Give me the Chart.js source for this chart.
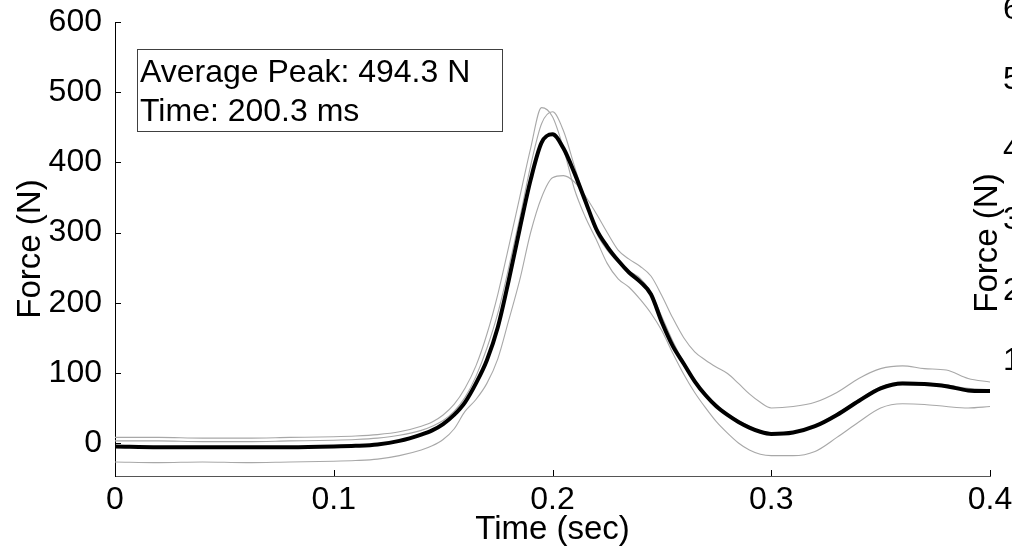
<!DOCTYPE html>
<html>
<head>
<meta charset="utf-8">
<script src="https://cdn.jsdelivr.net/npm/chart.js@4.4.1/dist/chart.umd.min.js"></script>
<style>
  html, body { margin: 0; padding: 0; background: #fff; }
  #wrap { width: 1012px; height: 552px; position: relative; overflow: hidden; }
</style>
</head>
<body>
<div id="wrap"><canvas id="forceChart" width="1012" height="552"></canvas></div>
<script>
// time samples (sec)
const timeSec = [0, 0.02, 0.04, 0.06, 0.08, 0.10, 0.11, 0.12, 0.13, 0.14,
  0.145, 0.15, 0.155, 0.16, 0.165, 0.17, 0.175, 0.18, 0.185, 0.19,
  0.195, 0.2, 0.205, 0.21, 0.215, 0.22, 0.225, 0.23, 0.235, 0.24,
  0.245, 0.25, 0.255, 0.26, 0.265, 0.27, 0.275, 0.28, 0.285, 0.29,
  0.295, 0.3, 0.31, 0.32, 0.33, 0.34, 0.35, 0.36, 0.37, 0.38, 0.39, 0.4];

// average trace (thick black)
const avgForce = [-5, -6, -6, -6, -6, -5, -4, -2, 3, 12,
  18, 27, 40, 58, 85, 118, 165, 232, 305, 375,
  428, 440, 420, 385, 345, 305, 280, 260, 243, 230,
  212, 172, 138, 113, 88, 68, 52, 40, 30, 22,
  16, 13, 15, 24, 40, 60, 78, 85, 84, 81, 75, 74];

// individual trials (grey)
const trial1 = [8, 8, 7, 7, 8, 9, 10, 12, 16, 24,
  30, 40, 55, 78, 110, 155, 212, 280, 350, 420,
  478, 465, 420, 362, 322, 290, 256, 234, 222, 205,
  185, 160, 128, 98, 72, 50, 30, 14, 0, -10,
  -16, -18, -18, -12, 8, 30, 50, 56, 55, 52, 50, 52];
const trial2 = [3, 3, 2, 2, 3, 4, 5, 7, 11, 18,
  24, 32, 45, 65, 95, 135, 185, 250, 320, 395,
  455, 472, 445, 395, 345, 300, 275, 258, 245, 235,
  215, 180, 145, 115, 90, 70, 55, 42, 32, 24,
  17, 14, 16, 25, 42, 62, 80, 87, 86, 83, 78, 76];
const trial3 = [-27, -28, -27, -28, -27, -26, -25, -23, -18, -10,
  -4, 5, 20, 45, 62, 85, 120, 175, 232, 300,
  350, 378, 381, 372, 352, 327, 300, 275, 262, 252,
  238, 210, 178, 150, 130, 118, 108, 99, 85, 70,
  58, 50, 52, 58, 72, 92, 106, 110, 106, 104, 92, 87];

const forceTicks = [0, 100, 200, 300, 400, 500, 600];
const timeTicks = [0, 0.1, 0.2, 0.3, 0.4];
const timeTickLabels = ['0', '0.1', '0.2', '0.3', '0.4'];
const neighbourTicks = [100, 200, 300, 400, 500, 600];

const annotationLines = ['Average Peak: 494.3 N', 'Time: 200.3 ms'];

const FONT = '"Liberation Sans", Arial, Helvetica, sans-serif';

function toPoints(arr) {
  return timeSec.map((t, i) => ({ x: t, y: arr[i] }));
}

// inward tick marks, like matlab axes
const tickMarks = {
  id: 'tickMarks',
  afterDraw(chart) {
    const ctx = chart.ctx;
    const xs = chart.scales.x, ys = chart.scales.y;
    const area = chart.chartArea;
    ctx.save();
    ctx.strokeStyle = '#000';
    ctx.lineWidth = 1;
    ctx.beginPath();
    forceTicks.forEach(v => {
      const py = Math.round(ys.getPixelForValue(v)) + 0.5;
      ctx.moveTo(area.left, py);
      ctx.lineTo(area.left + 6, py);
    });
    timeTicks.forEach(v => {
      if (v === 0) return;
      const px = Math.round(xs.getPixelForValue(v)) + 0.5;
      ctx.moveTo(px, area.bottom);
      ctx.lineTo(px, area.bottom - 6);
    });
    ctx.stroke();
    ctx.restore();
  }
};

// text box in upper left
const peakBox = {
  id: 'peakBox',
  afterDraw(chart) {
    const ctx = chart.ctx;
    ctx.save();
    ctx.fillStyle = '#fff';
    ctx.fillRect(137.5, 49.5, 365, 82);
    ctx.strokeStyle = '#404040';
    ctx.lineWidth = 1;
    ctx.strokeRect(137.5, 49.5, 365, 82);
    ctx.fillStyle = '#000';
    ctx.font = '32px ' + FONT;
    ctx.textBaseline = 'alphabetic';
    ctx.textAlign = 'left';
    ctx.fillText(annotationLines[0], 140, 82);
    ctx.fillText(annotationLines[1], 140, 121);
    ctx.restore();
  }
};

// edge of the next subplot, cut off at the right
const neighbourAxis = {
  id: 'neighbourAxis',
  afterDraw(chart) {
    const ctx = chart.ctx;
    const ys = chart.scales.y;
    ctx.save();
    ctx.fillStyle = '#000';
    ctx.font = '32px ' + FONT;
    ctx.textBaseline = 'middle';
    ctx.textAlign = 'left';
    neighbourTicks.forEach(v => {
      ctx.fillText(String(v), 1003, ys.getPixelForValue(v) - 12);
    });
    ctx.font = '33px ' + FONT;
    ctx.translate(988, 243);
    ctx.rotate(-Math.PI / 2);
    ctx.textAlign = 'center';
    ctx.fillText('Force (N)', 0, 0);
    ctx.restore();
  }
};

new Chart(document.getElementById('forceChart'), {
  type: 'line',
  data: {
    datasets: [
      { label: 'Average', data: toPoints(avgForce), borderColor: '#000', borderWidth: 4 },
      { label: 'Trial 1', data: toPoints(trial1), borderColor: '#a8a8a8', borderWidth: 1.1 },
      { label: 'Trial 2', data: toPoints(trial2), borderColor: '#a8a8a8', borderWidth: 1.1 },
      { label: 'Trial 3', data: toPoints(trial3), borderColor: '#a8a8a8', borderWidth: 1.1 }
    ]
  },
  options: {
    responsive: false,
    animation: false,
    devicePixelRatio: 1,
    layout: { padding: { top: 22, right: 22, left: 0, bottom: 0 } },
    elements: {
      point: { radius: 0 },
      line: { cubicInterpolationMode: 'monotone', fill: false, borderCapStyle: 'round', borderJoinStyle: 'round' }
    },
    plugins: {
      legend: { display: false },
      tooltip: { enabled: false }
    },
    scales: {
      x: {
        type: 'linear',
        min: 0,
        max: 0.4,
        afterBuildTicks: s => { s.ticks = timeTicks.map(v => ({ value: v })); },
        afterFit: s => { s.height = 76; s.paddingLeft = 0; s.paddingRight = 0; },
        grid: { display: false },
        border: { display: true, color: '#555', width: 1 },
        ticks: {
          color: '#000',
          font: { family: FONT, size: 32 },
          padding: -3,
          maxRotation: 0,
          autoSkip: false,
          callback: (v, i) => timeTickLabels[i]
        },
        title: {
          display: true,
          text: 'Time (sec)',
          color: '#000',
          font: { family: FONT, size: 33 },
          padding: { top: 0, bottom: 2 }
        }
      },
      y: {
        type: 'linear',
        min: -47,
        max: 600,
        afterBuildTicks: s => { s.ticks = forceTicks.map(v => ({ value: v })); },
        afterFit: s => { s.width = 115; s.paddingTop = 0; s.paddingBottom = 0; },
        grid: { display: false },
        border: { display: true, color: '#000', width: 1 },
        ticks: {
          color: '#000',
          font: { family: FONT, size: 32 },
          padding: 5,
          autoSkip: false,
          callback: v => String(v)
        },
        title: {
          display: true,
          text: 'Force (N)',
          color: '#000',
          font: { family: FONT, size: 33 },
          padding: { top: 11, bottom: 0 }
        }
      }
    }
  },
  plugins: [tickMarks, peakBox, neighbourAxis]
});
</script>
</body>
</html>
